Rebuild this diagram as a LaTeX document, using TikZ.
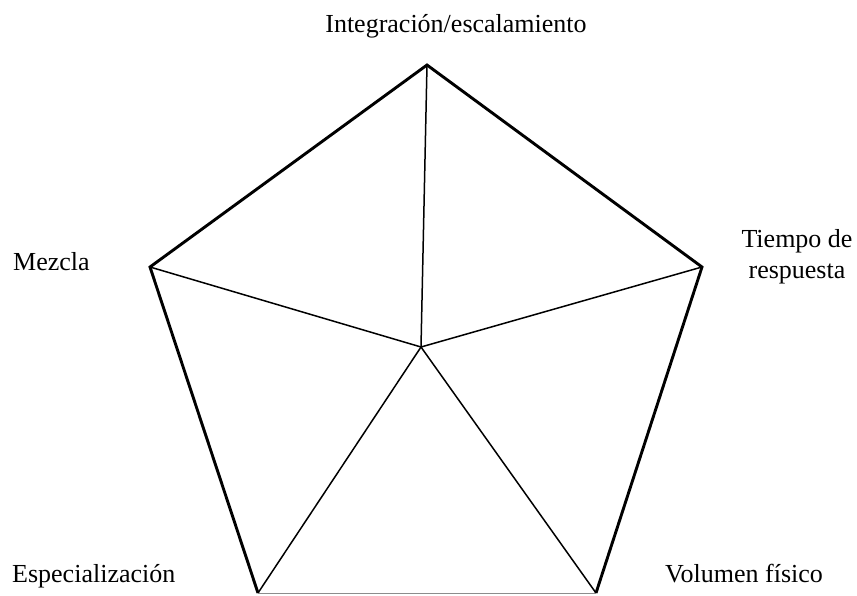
\documentclass[tikz,border=0pt]{standalone}
\usepackage{fontspec}
\setmainfont{Liberation Serif}
\usepackage{tikz}
\usetikzlibrary{positioning}

\begin{document}
\begin{tikzpicture}[
  x=1pt, y=-1pt,
  font=\fontsize{26}{30}\selectfont,
  rim/.style={line width=2.9pt, line join=miter, draw=black},
  spoke/.style={line width=1.5pt, draw=black},
  base/.style={line width=0.8pt, draw=black!45},
  label/.style={inner sep=0pt, align=center}
]
  \useasboundingbox (0,0) rectangle (857,595);

  % pentagon corners and hub
  \coordinate (top) at (427,65);
  \coordinate (right) at (702,267);
  \coordinate (left) at (150,267);
  \coordinate (botleft) at (258,593);
  \coordinate (botright) at (596,593);
  \coordinate (hub) at (421,347);

  % spokes
  \draw[spoke] (hub) -- (top);
  \draw[spoke] (hub) -- (right);
  \draw[spoke] (hub) -- (left);
  \draw[spoke] (hub) -- (botleft);
  \draw[spoke] (hub) -- (botright);

  % outline
  \draw[base] (botleft) -- (botright);
  \draw[rim] (botleft) -- (left) -- (top) -- (right) -- (botright);

  % labels
  \node[label, anchor=base] (integ) at (456,32) {Integración/escalamiento};
  \node[label, anchor=base west] (mezcla) at (13,270) {Mezcla};
  \node[label, anchor=base] (tiempo) at (797,247) {Tiempo de};
  \node[label, anchor=base] (resp) at (797,278) {respuesta};
  \node[label, anchor=base west] (espec) at (12,582) {Especialización};
  \node[label, anchor=base west] (volum) at (665,582) {Volumen físico};
\end{tikzpicture}
\end{document}
